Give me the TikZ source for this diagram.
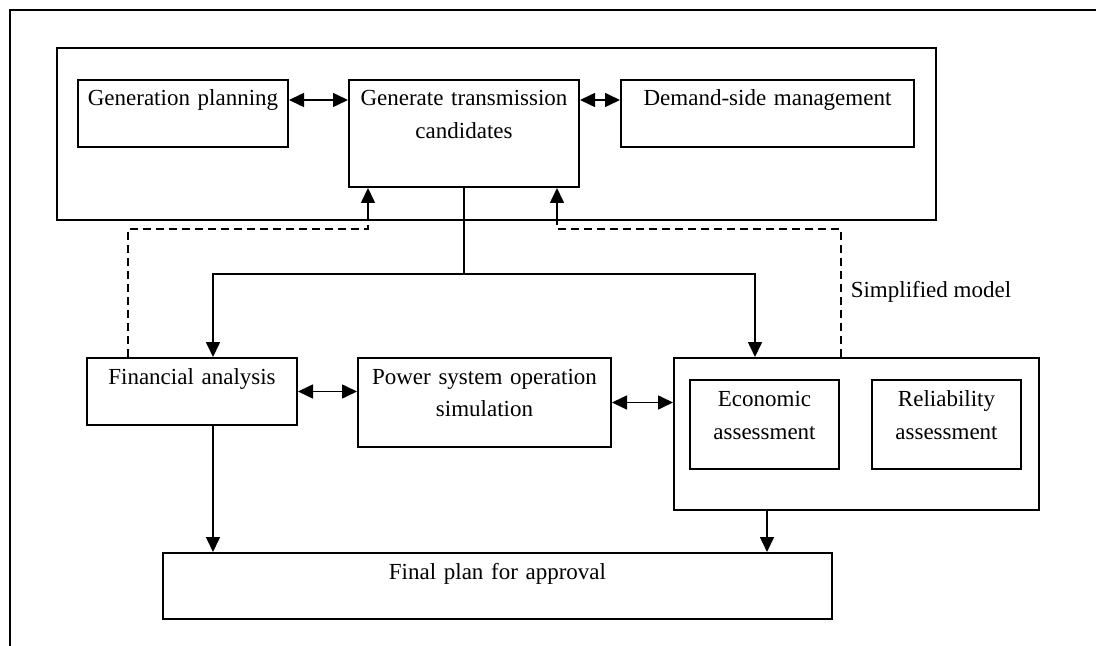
\documentclass[tikz,border=0pt]{standalone}
\usepackage{fontspec}
\setmainfont{Liberation Serif}
\usetikzlibrary{arrows.meta}

\tikzset{
  box/.style={draw, line width=1pt, inner xsep=0pt, inner ysep=0pt, align=center,
    text height=13pt, anchor=north west, font=\fontsize{11.5}{16.5}\selectfont},
  frame/.style={draw, line width=1.2pt, inner sep=0pt, anchor=north west},
  fb/.style={dash pattern=on 4pt off 2.5pt, -}
}

\begin{document}
\begin{tikzpicture}[x=0.5pt,y=-0.5pt,line width=0.8pt,>={Triangle[length=7.5pt,width=7pt]}]
        \useasboundingbox (0,0) rectangle (1096,646);
        \draw[line width=1pt] (10,700) -- (10,10) -- (1150,10);

        % planning stage
        \node[frame, minimum width=439.5pt, minimum height=86pt] (top) at (56,47) {};
        \node[box, text width=105pt, text depth=20.5pt] (gen) at (77,79) {Generation planning};
        \node[box, text width=115pt, text depth=40.5pt] (gtc) at (348,79) {Generate transmission\\candidates};
        \node[box, text width=146.5pt, text depth=20.5pt] (dsm) at (620,79) {Demand-side management};

        % evaluation stage
        \node[box, text width=105pt, text depth=20.5pt] (fa) at (86,357) {Financial analysis};
        \node[box, text width=126.5pt, text depth=31.5pt] (psos) at (357,357) {Power system operation\\simulation};
        \node[frame, line width=1pt, minimum width=182.5pt, minimum height=76pt] (assess) at (673,357) {};
        \node[box, text width=74.5pt, text depth=31.5pt] (econ) at (689,379) {Economic\\assessment};
        \node[box, text width=74.5pt, text depth=31.5pt] (rel) at (871,379) {Reliability\\assessment};
        \node[box, text width=334.5pt, text depth=20pt] (final) at (162,552) {Final plan for approval};

        \node[anchor=west, inner sep=0pt, font=\fontsize{11.5}{14}\selectfont] (simp) at (850,292) {Simplified model};

        \coordinate (row) at (0,100);
        \coordinate (split) at (464,274);
        \coordinate (sl) at (213,274);
        \coordinate (sr) at (755,274);
        \coordinate (dl) at (128,229);
        \coordinate (dr) at (841,229);
        \coordinate (fbl) at (368,229);
        \coordinate (fbr) at (557,229);
        \coordinate (dn) at (767,530);

        \draw[<->] (gen.east |- row) -- (gtc.west |- row);
        \draw[<->] (gtc.east |- row) -- (dsm.west |- row);
        \draw[->] (gtc.south) -- (split) -- (sl) -- (fa.north -| sl);
        \draw[->] (split) -- (sr) -- (assess.north -| sr);

        % feedback
        \draw[fb] (fa.north -| dl) -- (dl) -- (fbl) -- (top.south -| fbl);
        \draw[fb] (assess.north -| dr) -- (dr) -- (fbr) -- (top.south -| fbr);
        \draw[->] (top.south -| fbl) -- (gtc.south -| fbl);
        \draw[->] (top.south -| fbr) -- (gtc.south -| fbr);

        \draw[<->] (fa.east) -- (fa.east -| psos.west);
        \draw[<->] (psos.east) -- (psos.east -| assess.west);
        \draw[->] (fa.south -| sl) -- (final.north -| sl);
        \draw[->] (assess.south -| dn) -- (final.north -| dn);
\end{tikzpicture}
\end{document}
